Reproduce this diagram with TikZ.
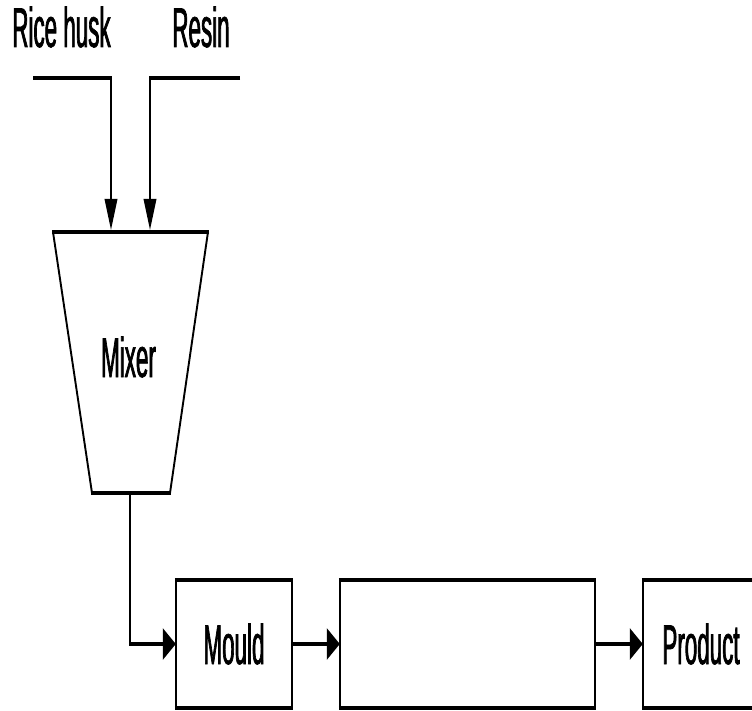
\documentclass[tikz,border=0pt]{standalone}
\usepackage{fontspec}
\setmainfont{Liberation Sans}[FakeStretch=0.4,FakeBold=1.2]
\usetikzlibrary{arrows.meta}
\newcommand\myboxedges[1]{%
  \draw[hline] ([xshift=-1pt]#1.north west) -- ([xshift=1pt]#1.north east);
  \draw[hline] ([xshift=-1pt]#1.south west) -- ([xshift=1pt]#1.south east);
  \draw[vline] (#1.north west) -- (#1.south west);
  \draw[vline] (#1.north east) -- (#1.south east);}
\begin{document}
\begin{tikzpicture}[x=1pt,y=-1pt,
  hline/.style={line width=4pt},
  vline/.style={line width=1.9pt},
  varrow/.style={vline,-{Triangle[length=31pt,width=12.5pt]}},
  harrow/.style={hline,-{Triangle[length=13pt,width=31pt]}},
  lbl/.style={font=\fontsize{56}{60}\selectfont, inner sep=0pt, anchor=base},
  procbox/.style={font=\fontsize{56}{60}\selectfont, inner sep=0pt,
    minimum height=128pt}]
\path[use as bounding box, clip] (0,0) rectangle (752,711);
\fill[white] (0,0) rectangle (752,711);

% labels
\node[lbl] (rhlabel) at (61.5,47) {Rice husk};
\node[lbl] (rslabel) at (201,47) {Resin};

% mixer
\coordinate (mtl) at (53,232);
\coordinate (mtr) at (208,232);
\coordinate (mbl) at (92,493);
\coordinate (mbr) at (170,493);
\node[lbl] (mixer) at (128.5,377) {Mixer};
\draw[hline] ([xshift=-1pt]mtl) -- ([xshift=1pt]mtr);
\draw[hline] ([xshift=-1pt]mbl) -- ([xshift=1pt]mbr);
\draw[vline] (mtl) -- (mbl);
\draw[vline] (mtr) -- (mbr);

% feeds
\coordinate (rh0) at (33,78);
\coordinate (rh1) at (111,78);
\coordinate (in1) at (111,232);
\coordinate (rs0) at (240,78);
\coordinate (rs1) at (150,78);
\coordinate (in2) at (150,232);
\draw[hline] (rh0) -- ([xshift=1pt]rh1);
\draw[varrow, shorten >=2pt] ([yshift=-2pt]rh1) -- (in1);
\draw[hline] (rs0) -- ([xshift=-1pt]rs1);
\draw[varrow, shorten >=2pt] ([yshift=-2pt]rs1) -- (in2);

% process boxes
\node[procbox, minimum width=116pt] (mould) at (234,644) {Mould};
\node[procbox, minimum width=255pt] (mid) at (467.5,644) {};
\node[procbox, minimum width=116pt] (prod) at (701,644) {Product};
\myboxedges{mould}
\myboxedges{mid}
\myboxedges{prod}

% mixer outlet
\coordinate (mixout) at (130,493);
\coordinate (elbow) at (mixout |- mould.west);
\draw[vline] (mixout) -- ([yshift=2pt]elbow);
\draw[harrow, shorten <=-1pt] (elbow) -- (mould.west);

% flow
\draw[harrow] (mould.east) -- (mid.west);
\draw[harrow] (mid.east) -- (prod.west);
\end{tikzpicture}
\end{document}
